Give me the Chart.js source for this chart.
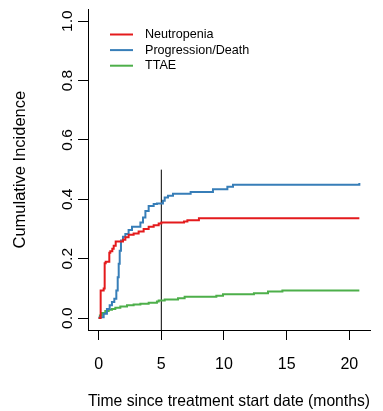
<!DOCTYPE html>
<html>
<head>
<meta charset="utf-8">
<script src="https://cdn.jsdelivr.net/npm/chart.js@4.4.1/dist/chart.umd.min.js"></script>
<style>
  html, body { margin: 0; padding: 0; background: #fff; }
  #wrap { width: 383px; height: 411px; }
</style>
</head>
<body>
<div id="wrap"><canvas id="cif" width="383" height="411"></canvas></div>
<script>
/* curves: time in months, cumulative incidence */
const neutroTime = [0, 0.16, 0.4, 0.48, 0.56, 0.85, 0.93, 1.09, 1.2, 1.36, 1.94, 2.13, 2.39, 2.79, 3.19, 3.59, 3.99, 4.39, 4.79, 5.0, 6.81, 7.08, 8.0, 20.8];
const neutroCif  = [0, 0.093, 0.10, 0.185, 0.19, 0.22, 0.225, 0.234, 0.244, 0.258, 0.264, 0.272, 0.281, 0.285, 0.292, 0.300, 0.308, 0.313, 0.319, 0.322, 0.325, 0.330, 0.336, 0.336];

const progTime = [0, 0.08, 0.40, 0.66, 0.88, 1.06, 1.25, 1.41, 1.52, 1.60, 1.68, 1.78, 1.94, 2.13, 2.39, 2.66, 3.33, 3.54, 3.73, 3.99, 4.39, 4.65, 5.13, 5.27, 5.53, 5.93, 7.34, 9.12, 10.27, 10.72, 20.8];
const progCif  = [0, 0.003, 0.015, 0.031, 0.043, 0.054, 0.065, 0.093, 0.138, 0.183, 0.227, 0.261, 0.274, 0.283, 0.297, 0.308, 0.322, 0.339, 0.361, 0.378, 0.384, 0.386, 0.395, 0.406, 0.412, 0.419, 0.425, 0.434, 0.442, 0.449, 0.455];

const ttaeTime = [0, 0.1, 0.26, 0.53, 0.80, 1.06, 1.33, 1.73, 2.26, 2.79, 3.33, 3.99, 4.65, 4.79, 5.27, 6.33, 6.86, 9.39, 9.92, 12.39, 13.51, 14.66, 20.8];
const ttaeCif  = [0, 0.009, 0.017, 0.024, 0.028, 0.031, 0.035, 0.039, 0.043, 0.046, 0.048, 0.052, 0.056, 0.059, 0.063, 0.067, 0.072, 0.075, 0.080, 0.084, 0.090, 0.093, 0.093];

const seriesNames = ['Neutropenia', 'Progression/Death', 'TTAE'];
const xTicks = [0, 5, 10, 15, 20];
const yTicks = [0, 0.2, 0.4, 0.6, 0.8, 1.0];
/* vertical marker at 5 months */
const markTime = 5;
const markTop = 0.5;

const FONT = '"Liberation Sans", Arial, Helvetica, sans-serif';
Chart.defaults.color = '#000';
Chart.defaults.font.family = FONT;

function toPoints(xs, ys) {
  return xs.map(function(x, i) { return { x: x, y: ys[i] }; });
}

function curve(label, xs, ys, color) {
  return {
    label: label,
    data: toPoints(xs, ys),
    borderColor: color,
    backgroundColor: color,
    borderWidth: 2,
    stepped: true,
    pointRadius: 0,
    inLegend: true,
  };
}

/* legend sits inside the plot, top left */
const insideLegend = {
  id: 'insideLegend',
  afterDatasetsDraw(chart) {
    const ctx = chart.ctx;
    ctx.save();
    ctx.font = '12.6px ' + FONT;
    ctx.textBaseline = 'middle';
    ctx.fillStyle = '#000';
    chart.data.datasets.filter(function(d) { return d.inLegend; }).forEach(function(d, i) {
      const y = 34.5 + i * 15.6;
      ctx.strokeStyle = d.borderColor;
      ctx.lineWidth = 2;
      ctx.beginPath();
      ctx.moveTo(110, y);
      ctx.lineTo(133, y);
      ctx.stroke();
      ctx.fillText(d.label, 145, y);
    });
    ctx.restore();
  }
};

const chart = new Chart(document.getElementById('cif').getContext('2d'), {
  type: 'line',
  data: {
    datasets: [
      curve(seriesNames[0], neutroTime, neutroCif, '#E41A1C'),
      curve(seriesNames[1], progTime, progCif, '#377EB8'),
      curve(seriesNames[2], ttaeTime, ttaeCif, '#4DAF4A'),
      {
        label: 'marker',
        data: [{ x: markTime, y: -0.05 }, { x: markTime, y: markTop }],
        borderColor: '#000',
        borderWidth: 1,
        pointRadius: 0,
      },
    ],
  },
  options: {
    responsive: false,
    animation: false,
    devicePixelRatio: 1,
    layout: { padding: { top: 7, right: 13, bottom: 0, left: 0 } },
    plugins: { legend: { display: false }, tooltip: { enabled: false } },
    scales: {
      x: {
        type: 'linear',
        min: -0.85,
        max: 21.65,
        afterBuildTicks: function(axis) { axis.ticks = xTicks.map(function(v) { return { value: v }; }); },
        afterFit: function(axis) { axis.height = 81; },
        grid: { drawOnChartArea: false, drawTicks: true, tickLength: 10, color: '#000' },
        border: { display: true, color: '#000', width: 1 },
        ticks: { autoSkip: false, maxRotation: 0, padding: 15, font: { size: 16 }, callback: function(v) { return String(v); } },
        title: { display: true, text: 'Time since treatment start date (months)', font: { size: 16.5 }, padding: { top: 0, bottom: 0 } },
      },
      y: {
        type: 'linear',
        min: -0.04,
        max: 1.04,
        afterBuildTicks: function(axis) { axis.ticks = yTicks.map(function(v) { return { value: v }; }); },
        afterFit: function(axis) { axis.width = 88; },
        grid: { drawOnChartArea: false, drawTicks: true, tickLength: 10, color: '#000' },
        border: { display: true, color: '#000', width: 1 },
        ticks: { autoSkip: false, minRotation: 90, maxRotation: 90, crossAlign: 'center', padding: 0, font: { size: 15.5 }, callback: function(v) { return v.toFixed(1); } },
        title: { display: true, text: 'Cumulative Incidence', font: { size: 16.5 }, padding: { top: 11, bottom: 0 } },
      },
    },
  },
  plugins: [insideLegend],
});
</script>
</body>
</html>
